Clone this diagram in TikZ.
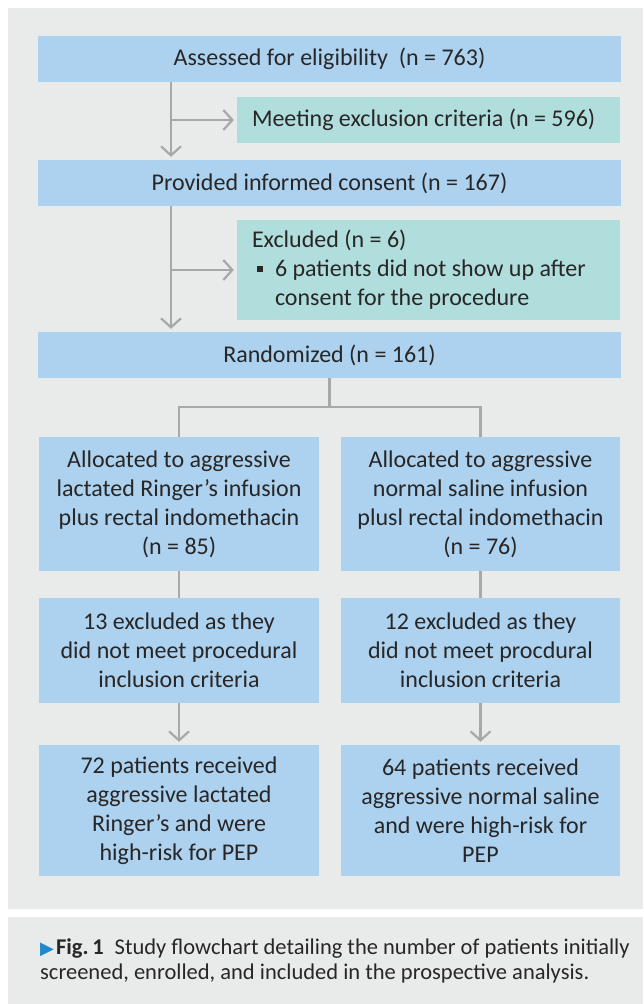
\documentclass[tikz,border=0pt]{standalone}
\usepackage{fontspec}
\setmainfont{Carlito}
\newfontfamily\symfont{DejaVu Sans}
\usetikzlibrary{arrows.meta}
\definecolor{boxblue}{RGB}{172,210,239}
\definecolor{boxteal}{RGB}{176,222,220}
\definecolor{panelgray}{RGB}{233,235,235}
\definecolor{linegray}{RGB}{168,168,168}
\definecolor{inkgray}{RGB}{40,38,38}
\definecolor{figblue}{RGB}{30,136,200}
\newcommand{\sqbullet}{\makebox[23pt][l]{\hspace{5pt}\raisebox{5pt}{\rule{6pt}{6pt}}}}
\begin{document}
\begin{tikzpicture}[x=1pt,y=-1pt,
  every node/.style={text=inkgray,font=\fontsize{24}{29}\selectfont,inner sep=0pt},
  bluebox/.style={fill=boxblue,minimum height=46pt,align=center},
  tealbox/.style={fill=boxteal,minimum height=46pt,align=flush left,
    inner xsep=15pt,text width=353pt},
  link/.style={draw=linegray,line width=2.2pt},
  flow/.style={link,-{Straight Barb[length=9pt,width=20pt]},shorten >=3pt}]
  \useasboundingbox (0,0) rectangle (643,1004);
  \fill[panelgray] (8,8) rectangle (643,909);
  \fill[panelgray] (8,917) rectangle (643,1004);

  \node (assess) [bluebox,minimum width=583pt] at (329.5,59)
    {Assessed for eligibility~~(n = 763)};
  \node (meet) [tealbox] at (428.5,120)
    {Meeting exclusion criteria (n = 596)};
  \node (consent) [bluebox,minimum width=583pt] at (329.5,183)
    {Provided informed consent (n = 167)};
  \node (excl) [tealbox,minimum height=100pt] at (428.5,270)
    {Excluded (n = 6)\\
     \sqbullet 6 patients did not show up after\\
     \hspace*{23pt}consent for the procedure};
  \node (rand) [bluebox,minimum width=583pt] at (329.5,355)
    {Randomized (n = 161)};

  \node (allocl) [bluebox,minimum width=280pt,minimum height=134pt] at (179,504)
    {Allocated to aggressive\\lactated Ringer's infusion\\plus rectal indomethacin\\(n = 85)};
  \node (allocr) [bluebox,minimum width=279pt,minimum height=134pt] at (480.5,504)
    {Allocated to aggressive\\normal saline infusion\\plusl rectal indomethacin\\(n = 76)};
  \node (dropl) [bluebox,minimum width=280pt,minimum height=105pt] at (179,650.5)
    {13 excluded as they\\did not meet procedural\\inclusion criteria};
  \node (dropr) [bluebox,minimum width=279pt,minimum height=105pt] at (480.5,650.5)
    {12 excluded as they\\did not meet procdural\\inclusion criteria};
  \node (recvl) [bluebox,minimum width=280pt,minimum height=131pt] at (179,810.5)
    {72 patients received\\aggressive lactated\\Ringer's and were\\high-risk for PEP};
  \node (recvr) [bluebox,minimum width=279pt,minimum height=131pt] at (480.5,810.5)
    {64 patients received\\aggressive normal saline\\and were high-risk for\\PEP};

  \coordinate (trunk) at (171,0);
  \draw[flow] (assess.south -| trunk) -- (consent.north -| trunk);
  \draw[flow] (trunk |- meet) -- (meet.west);
  \draw[flow] (consent.south -| trunk) -- (rand.north -| trunk);
  \draw[flow] (trunk |- excl) -- (excl.west);

  \path (rand.south) ++(0,29) coordinate (split);
  \draw[link] (rand.south) -- (split) -| (allocl.north);
  \draw[link] (split) -| (allocr.north);
  \draw[link] (allocl.south) -- (dropl.north);
  \draw[link] (allocr.south) -- (dropr.north);
  \draw[flow] (dropl.south) -- (recvl.north);
  \draw[flow] (dropr.south) -- (recvr.north);

  \node (cap) [anchor=base west,align=flush left,font=\fontsize{22.5}{25}\selectfont]
    at (40,979)
    {\textcolor{figblue}{\symfont\fontsize{18}{18}\selectfont ▶}\hspace{2pt}\textbf{Fig.\,1}\hspace{11pt}Study flowchart detailing the number of patients initially\\
     screened, enrolled, and included in the prospective analysis.};
\end{tikzpicture}
\end{document}
